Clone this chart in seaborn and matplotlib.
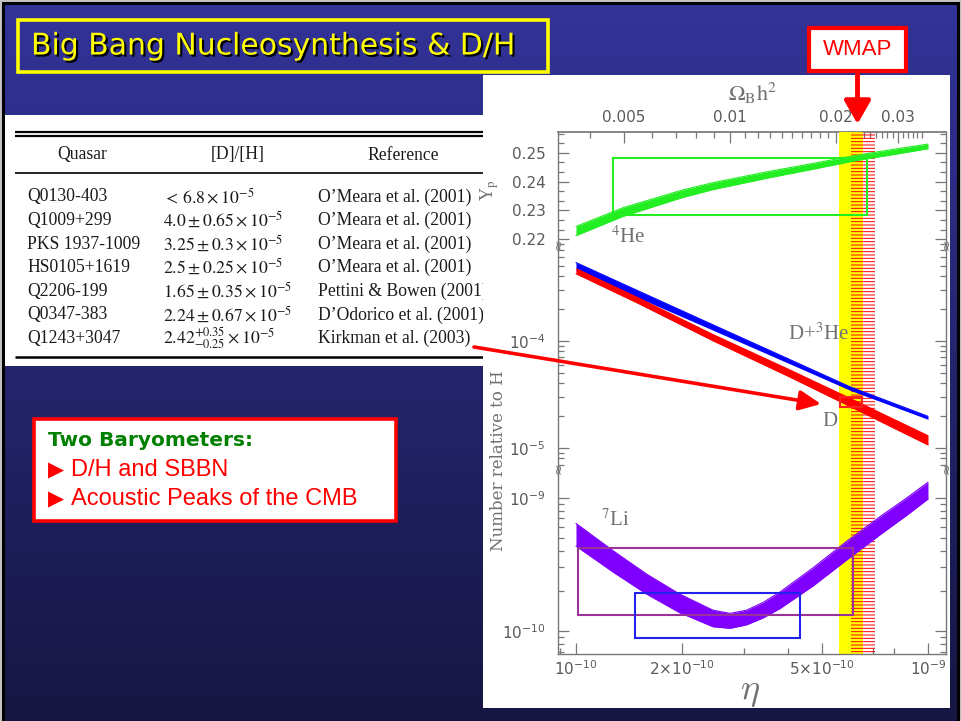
import numpy as np
import pandas as pd
import matplotlib
matplotlib.use("Agg")
import matplotlib.pyplot as plt
import seaborn as sns
from matplotlib.patches import Rectangle, FancyArrowPatch
import matplotlib.patheffects as pe
from matplotlib.ticker import FixedLocator, NullFormatter, FixedFormatter, AutoMinorLocator, LogLocator, NullLocator

# ---------------- data ----------------
# 4He mass fraction band
he_eta = [1.0e-10, 1.36e-10, 2.0e-10, 2.45e-10, 3.5e-10, 4.72e-10, 6.25e-10, 8.0e-10, 1.0e-9]
he_yp = [0.2228, 0.2294, 0.2357, 0.2384, 0.2423, 0.2453, 0.2482, 0.2503, 0.2522]
he_halfwidth = [0.0016, 0.0015, 0.0013, 0.0012, 0.0011, 0.0010, 0.0009, 0.0009, 0.0008]

# D/H band (dex half-widths)
d_eta = [1.0e-10, 1.5e-10, 2.45e-10, 4.0e-10, 6.0e-10, 1.0e-9]
d_val = [4.51e-4, 2.40e-4, 1.08e-4, 5.10e-5, 2.69e-5, 1.19e-5]
d_halfdex = [0.028, 0.030, 0.033, 0.037, 0.042, 0.047]

# D + 3He band
d3_eta = [1.0e-10, 1.5e-10, 2.45e-10, 4.0e-10, 6.0e-10, 1.0e-9]
d3_val = [4.92e-4, 2.72e-4, 1.33e-4, 6.50e-5, 3.59e-5, 1.91e-5]
d3_halfdex = [0.038, 0.032, 0.025, 0.020, 0.016, 0.014]

# 7Li band
li_eta = [1.0e-10, 1.28e-10, 1.59e-10, 1.97e-10, 2.45e-10, 2.74e-10, 3.05e-10,
          3.40e-10, 3.80e-10, 4.72e-10, 5.87e-10, 7.31e-10, 8.69e-10, 1.0e-9]
li_val = [5.27e-10, 3.30e-10, 2.24e-10, 1.61e-10, 1.24e-10, 1.19e-10, 1.26e-10,
          1.43e-10, 1.70e-10, 2.55e-10, 4.00e-10, 6.17e-10, 8.55e-10, 1.13e-9]
li_halfdex = [0.085, 0.080, 0.075, 0.070, 0.062, 0.056, 0.055,
              0.058, 0.062, 0.068, 0.070, 0.068, 0.065, 0.063]

# observational boxes: (eta_lo, eta_hi, y_lo, y_hi)
he_box = (1.277e-10, 6.70e-10, 0.2285, 0.2482)
d_box = (5.62e-10, 6.49e-10, 2.42e-5, 3.0e-5)
li_box_purple = (1.01e-10, 6.14e-10, 1.31e-10, 4.17e-10)
li_box_blue = (1.47e-10, 4.33e-10, 8.9e-11, 1.91e-10)

# WMAP / SBBN bands in eta
yellow_band = (5.58e-10, 6.52e-10)
wmap_band = (6.04e-10, 7.07e-10)

omega_conv = 2.74e-8  # eta = omega_b h^2 * omega_conv
omega_major = [0.005, 0.01, 0.02, 0.03]
omega_labels = ["0.005", "0.01", "0.02", "0.03"]
omega_minor = [round(0.001 * k, 3) for k in range(4, 36)]

eta_major = [1e-10, 2e-10, 5e-10, 1e-9]
eta_labels = [r"$10^{-10}$", r"$2{\times}10^{-10}$", r"$5{\times}10^{-10}$", r"$10^{-9}$"]
eta_minor = [9e-11, 3e-10, 4e-10, 6e-10, 7e-10, 8e-10]

yp_ticks = [0.22, 0.23, 0.24, 0.25]

# table
quasars = ["Q0130-403", "Q1009+299", "PKS 1937-1009", "HS0105+1619", "Q2206-199", "Q0347-383", "Q1243+3047"]
dh_values = [r"$<\,6.8\times10^{-5}$", r"$4.0\pm0.65\times10^{-5}$", r"$3.25\pm0.3\times10^{-5}$",
             r"$2.5\pm0.25\times10^{-5}$", r"$1.65\pm0.35\times10^{-5}$", r"$2.24\pm0.67\times10^{-5}$",
             r"$2.42^{+0.35}_{-0.25}\times10^{-5}$"]
references = ["O\u2019Meara et al. (2001)", "O\u2019Meara et al. (2001)", "O\u2019Meara et al. (2001)",
              "O\u2019Meara et al. (2001)", "Pettini & Bowen (2001)", "D\u2019Odorico et al. (2001)",
              "Kirkman et al. (2003)"]

# ---------------- style ----------------
sns.set_theme(style="white")
plt.rcParams['font.family'] = ['DejaVu Sans']
plt.rcParams['mathtext.fontset'] = 'dejavusans'
plt.rcParams['hatch.linewidth'] = 0.7

W, H = 961, 721
fig = plt.figure(figsize=(W / 100, H / 100), dpi=100, facecolor='#c4c4c4')


def rect_ax(x0, y0, x1, y1):
    return [x0 / W, 1 - y1 / H, (x1 - x0) / W, (y1 - y0) / H]


def fig_rect(x0, y0, x1, y1, **kw):
    r = Rectangle((x0 / W, 1 - y1 / H), (x1 - x0) / W, (y1 - y0) / H,
                  transform=fig.transFigure, **kw)
    fig.add_artist(r)
    return r


def fpt(x, y):
    return (x / W, 1 - y / H)


# background gradient
bg = fig.add_axes(rect_ax(3, 3, 958, 721), zorder=-5)
g = np.linspace(0, 1, 256)[:, None, None]
top_c = np.array([51, 51, 153]) / 255
bot_c = np.array([22, 22, 66]) / 255
img = top_c * (1 - g) + bot_c * g
bg.imshow(img, aspect='auto', extent=[0, 1, 0, 1])
bg.axis('off')
fig_rect(3, 3, 958, 723, facecolor='none', edgecolor='black', lw=2.2, zorder=-4)

# title
fig_rect(18, 20, 548, 72, facecolor='none', edgecolor='#ffff00', lw=2.6, zorder=2)
fig.text(31 / W, 1 - 46 / H, "Big Bang Nucleosynthesis & D/H", color='#ffff00',
         fontsize=21.5, ha='left', va='center', family=['DejaVu Sans'],
         path_effects=[pe.withSimplePatchShadow(offset=(1.5, -1.5), shadow_rgbFace='black', alpha=1.0)],
         zorder=3)

# table
tab = fig.add_axes(rect_ax(5, 115, 483, 366), zorder=-3)
tab.set_xlim(5, 483)
tab.set_ylim(366, 115)
tab.set_facecolor('white')
tab.set_xticks([])
tab.set_yticks([])
for s in tab.spines.values():
    s.set_visible(False)
for yy, lw in [(132.3, 1.6), (135.8, 1.6), (173, 1.2), (357, 1.8)]:
    tab.plot([15, 483], [yy, yy], color='black', lw=lw, solid_capstyle='butt')
tfont = dict(family=['Liberation Serif', 'DejaVu Serif'], fontsize=12.7, color='#1a1a1a', clip_on=True)
tab.text(82, 155, "Quasar", ha='center', va='center', **tfont)
tab.text(238, 155, "[D]/[H]", ha='center', va='center', **tfont)
tab.text(403, 155, "Reference", ha='center', va='center', **tfont)
for i, (q, dv, rf) in enumerate(zip(quasars, dh_values, references)):
    yy = 197 + 23.6 * i
    tab.text(27, yy, q, ha='left', va='center', **tfont)
    tab.text(163, yy, dv, ha='left', va='center', math_fontfamily='stix', **tfont)
    tab.text(318, yy, rf, ha='left', va='center', **tfont)

# plot panel
fig_rect(483, 75, 950, 708, facecolor='white', edgecolor='none', zorder=-2)

gray = '#777777'
tgray = '#5a5a5a'
xlim = (8.89e-11, 1.125e-9)

ax1 = fig.add_axes(rect_ax(558, 132, 946, 244))
ax2 = fig.add_axes(rect_ax(558, 244, 946, 468))
ax3 = fig.add_axes(rect_ax(558, 468, 946, 654))

for ax in (ax1, ax2, ax3):
    ax.set_facecolor('none')
    ax.set_xscale('log')
    ax.set_xlim(*xlim)
    for s in ax.spines.values():
        s.set_color(gray)
        s.set_linewidth(1.0)
    ax.axvspan(*yellow_band, facecolor='#ffff00', edgecolor='none', zorder=1)
    ax.axvspan(*wmap_band, facecolor='none', edgecolor='#ff0000', hatch='-----', lw=0, zorder=1.5)
    ax.tick_params(which='both', direction='in', left=True, right=True, colors=gray,
                   labelcolor=tgray, labelsize=11, width=0.9)
    ax.tick_params(which='major', length=8)
    ax.tick_params(which='minor', length=4)
    ax.grid(False)

ax1.spines['bottom'].set_visible(False)
ax1.spines['top'].set_visible(False)
ax2.spines['top'].set_visible(False)
ax2.spines['bottom'].set_visible(False)
ax3.spines['top'].set_visible(False)

for ax in (ax1, ax2):
    ax.tick_params(axis='x', which='both', bottom=False, top=False, labelbottom=False)
    ax.xaxis.set_major_locator(NullLocator())
    ax.xaxis.set_minor_locator(NullLocator())
ax3.tick_params(axis='x', which='both', bottom=True, top=False, pad=4)
ax3.xaxis.set_major_locator(FixedLocator(eta_major))
ax3.xaxis.set_major_formatter(FixedFormatter(eta_labels))
ax3.xaxis.set_minor_locator(FixedLocator(eta_minor))
ax3.xaxis.set_minor_formatter(NullFormatter())

# --- panel 1: Yp
ax1.set_ylim(0.2183, 0.2572)
ax1.yaxis.set_major_locator(FixedLocator(yp_ticks))
ax1.yaxis.set_major_formatter(FixedFormatter(["%.2f" % v for v in yp_ticks]))
ax1.yaxis.set_minor_locator(AutoMinorLocator(3))
ax1.tick_params(axis='y', pad=9)
he_df = pd.DataFrame({'eta': he_eta,
                      'lo': np.array(he_yp) - np.array(he_halfwidth),
                      'hi': np.array(he_yp) + np.array(he_halfwidth)})
ax1.fill_between(he_df['eta'], he_df['lo'], he_df['hi'], color='#22ee22', lw=0, zorder=3)
sns.lineplot(data=he_df, x='eta', y='lo', ax=ax1, color='#22ee22', lw=0.8, zorder=3)
sns.lineplot(data=he_df, x='eta', y='hi', ax=ax1, color='#22ee22', lw=0.8, zorder=3)
ax1.add_patch(Rectangle((he_box[0], he_box[2]), he_box[1] - he_box[0], he_box[3] - he_box[2],
                        facecolor='none', edgecolor='#22ee22', lw=1.5, zorder=4))
ax1.set_xlabel('')
ax1.set_ylabel('')

# secondary axis omega_b h^2
sec = ax1.secondary_xaxis('top', functions=(lambda e: np.asarray(e) / omega_conv,
                                            lambda o: np.asarray(o) * omega_conv))
sec.xaxis.set_major_locator(FixedLocator(omega_major))
sec.xaxis.set_major_formatter(FixedFormatter(omega_labels))
sec.xaxis.set_minor_locator(FixedLocator(omega_minor))
sec.xaxis.set_minor_formatter(NullFormatter())
sec.tick_params(which='both', direction='in', colors=gray, labelcolor=tgray, labelsize=11, width=0.9, pad=5)
sec.tick_params(which='major', length=8)
sec.tick_params(which='minor', length=4)
sec.spines['top'].set_color(gray)

# --- panel 2: D and D+3He
ax2.set_yscale('log')
ax2.set_ylim(6.5e-6, 8.0e-4)
ax2.yaxis.set_major_locator(FixedLocator([1e-5, 1e-4]))
ax2.yaxis.set_major_formatter(FixedFormatter([r"$10^{-5}$", r"$10^{-4}$"]))
ax2.yaxis.set_minor_locator(LogLocator(base=10, subs=np.arange(2, 10)))
ax2.yaxis.set_minor_formatter(NullFormatter())
ax2.tick_params(axis='y', pad=9)

d3_df = pd.DataFrame({'eta': d3_eta,
                      'lo': np.array(d3_val) * 10 ** (-np.array(d3_halfdex)),
                      'hi': np.array(d3_val) * 10 ** (np.array(d3_halfdex))})
ax2.fill_between(d3_df['eta'], d3_df['lo'], d3_df['hi'], color='#0000ff', lw=0, zorder=3)
sns.lineplot(data=d3_df, x='eta', y='hi', ax=ax2, color='#0000ff', lw=0.8, zorder=3)
d_df = pd.DataFrame({'eta': d_eta,
                     'lo': np.array(d_val) * 10 ** (-np.array(d_halfdex)),
                     'hi': np.array(d_val) * 10 ** (np.array(d_halfdex))})
ax2.fill_between(d_df['eta'], d_df['lo'], d_df['hi'], color='#ff0000', lw=0, zorder=3.5)
sns.lineplot(data=d_df, x='eta', y='lo', ax=ax2, color='#ff0000', lw=0.8, zorder=3.5)
ax2.add_patch(Rectangle((d_box[0], d_box[2]), d_box[1] - d_box[0], d_box[3] - d_box[2],
                        facecolor='none', edgecolor='#ff2020', lw=1.5, zorder=4))
ax2.set_xlabel('')
ax2.set_ylabel('')

# --- panel 3: 7Li
ax3.set_yscale('log')
ax3.set_ylim(6.71e-11, 1.67e-9)
ax3.yaxis.set_major_locator(FixedLocator([1e-10, 1e-9]))
ax3.yaxis.set_major_formatter(FixedFormatter([r"$10^{-10}$", r"$10^{-9}$"]))
ax3.yaxis.set_minor_locator(LogLocator(base=10, subs=np.arange(2, 10)))
ax3.yaxis.set_minor_formatter(NullFormatter())
ax3.tick_params(axis='y', pad=9)
li_df = pd.DataFrame({'eta': li_eta,
                      'lo': np.array(li_val) * 10 ** (-np.array(li_halfdex)),
                      'hi': np.array(li_val) * 10 ** (np.array(li_halfdex))})
ax3.fill_between(li_df['eta'], li_df['lo'], li_df['hi'], color='#8000ff', lw=0, zorder=3)
sns.lineplot(data=li_df, x='eta', y='lo', ax=ax3, color='#8000ff', lw=0.8, zorder=3)
sns.lineplot(data=li_df, x='eta', y='hi', ax=ax3, color='#8000ff', lw=0.8, zorder=3)
for bx, col in [(li_box_purple, '#993399'), (li_box_blue, '#2222ee')]:
    ax3.add_patch(Rectangle((bx[0], bx[2]), bx[1] - bx[0], bx[3] - bx[2],
                            facecolor='none', edgecolor=col, lw=1.5, zorder=4))
ax3.set_xlabel('')
ax3.set_ylabel('')

# labels inside the plot
lfont = dict(family=['Liberation Serif', 'DejaVu Serif'], math_fontfamily='stix', color='#707070', fontsize=15)
ax1.text(1.26e-10, 0.2206, r"$^{4}$He", ha='left', va='center', zorder=5, **lfont)
ax2.text(4.0e-10, 1.16e-4, r"D+$^{3}$He", ha='left', va='center', zorder=5, **lfont)
ax2.text(5.27e-10, 1.78e-5, "D", ha='center', va='center', zorder=5, **lfont)
ax3.text(1.18e-10, 6.8e-10, r"$^{7}$Li", ha='left', va='center', zorder=5, **lfont)

# axis labels
fig.text(753 / W, 1 - 93 / H, r"$\Omega_{\rm B}{\rm h}^2$", ha='center', va='center', fontsize=16,
         color='#707070', math_fontfamily='stix')
fig.text(750 / W, 1 - 692 / H, r"$\eta$", ha='center', va='center', fontsize=26,
         color='#707070', math_fontfamily='cm')
fig.text(490 / W, 1 - 190 / H, r"Y$_{\rm p}$", ha='center', va='center', rotation=90, fontsize=13,
         color='#707070', math_fontfamily='stix', family=['Liberation Serif'])
fig.text(498.5 / W, 1 - 461 / H, "Number relative to H", ha='center', va='center', rotation=90,
         fontsize=12, color='#707070', family=['DejaVu Serif'])

# axis-break marks
for (bx, by) in [(558, 244), (946, 244), (558, 468), (946, 468)]:
    fig.text(bx / W, 1 - by / H, "\u2248", ha='center', va='center', rotation=90, fontsize=10,
             color=gray, zorder=6)

# WMAP box and arrow
fig_rect(809, 28, 906, 71, facecolor='white', edgecolor='#ff0000', lw=3, zorder=8)
fig.text(857.5 / W, 1 - 49.5 / H, "WMAP", ha='center', va='center', color='#ff0000', fontsize=16,
         family=['Liberation Sans', 'DejaVu Sans'], zorder=9)
fig.add_artist(FancyArrowPatch(fpt(857.5, 72), fpt(857.5, 124), transform=fig.transFigure,
                               arrowstyle='-|>,head_length=14,head_width=8', mutation_scale=1,
                               color='#ff0000', lw=3.5, shrinkA=0, shrinkB=0, zorder=9))

# arrow from table to D box
fig.add_artist(FancyArrowPatch(fpt(474, 347), fpt(821, 404), transform=fig.transFigure,
                               arrowstyle='-|>,head_length=13,head_width=6', mutation_scale=1,
                               color='#ff0000', lw=2.6, shrinkA=0, shrinkB=0, zorder=9))

# Two baryometers box
fig_rect(34, 419, 396, 521, facecolor='white', edgecolor='#ff0000', lw=2.6, zorder=8)
fig.text(48 / W, 1 - 441 / H, "Two Baryometers:", ha='left', va='center', color='#008000',
         fontsize=14.5, fontweight='bold', family=['DejaVu Sans'], zorder=9)
for yy, txt in [(470, "D/H and SBBN"), (499, "Acoustic Peaks of the CMB")]:
    fig.text(48 / W, 1 - yy / H, "\u25B6", ha='left', va='center', color='#ff0000', fontsize=15,
             family=['DejaVu Sans'], zorder=9)
    fig.text(71 / W, 1 - yy / H, txt, ha='left', va='center', color='#ff0000', fontsize=17,
             family=['Liberation Sans', 'DejaVu Sans'], zorder=9)

fig.savefig("out.png", dpi=100, facecolor=fig.get_facecolor())
